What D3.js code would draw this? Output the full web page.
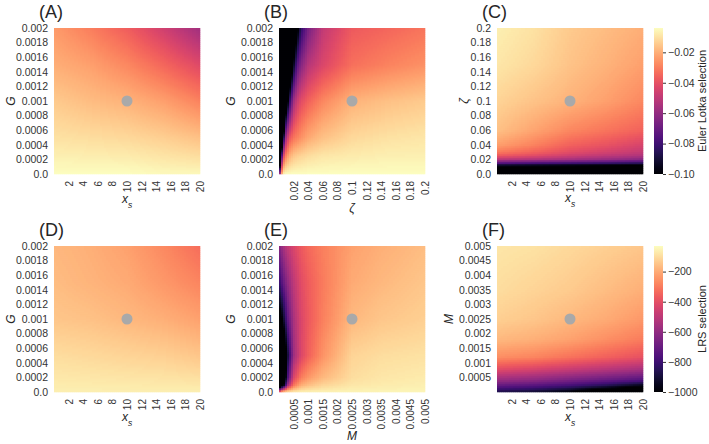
<!DOCTYPE html>
<html>
<head>
<meta charset="utf-8">
<script src="https://cdn.jsdelivr.net/npm/d3@7"></script>
<style>
  body { margin: 0; background: #fff; }
  svg { display: block; font-family: "Liberation Sans", Arial, sans-serif; }
  .axis text { font-size: 10.5px; fill: #333; }
  .xaxis text { font-size: 10px; }
  .axis path { display: none; }
  .axis line { stroke: #333; }
  .lab { font-size: 12px; fill: #262626; font-style: italic; }
  .ttl { font-size: 18px; fill: #262626; }
</style>
</head>
<body>
<svg id="chart" width="709" height="444"></svg>
<script>
// ---------- tick values / labels ----------
var xsTicks = [2, 4, 6, 8, 10, 12, 14, 16, 18, 20];
var gTicks = [0, 0.0002, 0.0004, 0.0006, 0.0008, 0.001, 0.0012, 0.0014, 0.0016, 0.0018, 0.002];
var gLabels = ["0.0", "0.0002", "0.0004", "0.0006", "0.0008", "0.001", "0.0012", "0.0014", "0.0016", "0.0018", "0.002"];
var zetaYTicks = [0, 0.02, 0.04, 0.06, 0.08, 0.1, 0.12, 0.14, 0.16, 0.18, 0.2];
var zetaYLabels = ["0.0", "0.02", "0.04", "0.06", "0.08", "0.1", "0.12", "0.14", "0.16", "0.18", "0.2"];
var zetaXTicks = [0.02, 0.04, 0.06, 0.08, 0.1, 0.12, 0.14, 0.16, 0.18, 0.2];
var zetaXLabels = ["0.02", "0.04", "0.06", "0.08", "0.1", "0.12", "0.14", "0.16", "0.18", "0.2"];
var mTicks = [0.0005, 0.001, 0.0015, 0.002, 0.0025, 0.003, 0.0035, 0.004, 0.0045, 0.005];
var mLabels = ["0.0005", "0.001", "0.0015", "0.002", "0.0025", "0.003", "0.0035", "0.004", "0.0045", "0.005"];
var elTicks = [-0.10, -0.08, -0.06, -0.04, -0.02];
var lrsTicks = [-1000, -800, -600, -400, -200];

// ---------- sampled selection values (rows = y grid, cols = x grid) ----------
// (A) Euler-Lotka, x_s vs G
var aCols = [0, 5, 10, 15, 20];
var aRows = [0, 0.0005, 0.001, 0.0015, 0.002];
var aVals = [
  [-0.004, -0.004, -0.004, -0.005, -0.005],
  [-0.0098, -0.0107, -0.0117, -0.0136, -0.0165],
  [-0.0146, -0.0174, -0.0194, -0.0232, -0.0290],
  [-0.0203, -0.0232, -0.0280, -0.0347, -0.0424],
  [-0.0242, -0.0299, -0.0366, -0.0462, -0.0568]
];
// (B) Euler-Lotka, zeta vs G
var bCols = [0, 0.005, 0.01, 0.015, 0.02, 0.025, 0.03, 0.04, 0.06, 0.1, 0.15, 0.2];
var bRows = [0, 0.00025, 0.0005, 0.001, 0.0015, 0.002];
var bVals = [
  [-0.0712, -0.0069, -0.004, -0.004, -0.004, -0.004, -0.004, -0.004, -0.004, -0.004, -0.004, -0.004],
  [-0.196, -0.0472, -0.0270, -0.0194, -0.0155, -0.0136, -0.0126, -0.0107, -0.0088, -0.0078, -0.0069, -0.0069],
  [-0.244, -0.1048, -0.052, -0.0376, -0.0318, -0.029, -0.0261, -0.0213, -0.0165, -0.0117, -0.0098, -0.0088],
  [-0.292, -0.196, -0.1144, -0.0808, -0.0568, -0.0472, -0.0414, -0.0357, -0.028, -0.0194, -0.0165, -0.0146],
  [-0.388, -0.244, -0.1768, -0.1288, -0.0952, -0.0731, -0.0635, -0.052, -0.0434, -0.0328, -0.029, -0.0261],
  [-0.388, -0.292, -0.196, -0.1576, -0.1288, -0.1048, -0.0837, -0.0664, -0.0491, -0.0376, -0.0347, -0.0318]
];
// (C) Euler-Lotka, x_s vs zeta
var cCols = [0, 5, 10, 15, 20];
var cRows = [0, 0.005, 0.01, 0.015, 0.02, 0.025, 0.03, 0.04, 0.06, 0.1, 0.15, 0.2];
var cVals = [
  [-0.292, -0.292, -0.292, -0.292, -0.292],
  [-0.196, -0.196, -0.196, -0.196, -0.196],
  [-0.1060, -0.1075, -0.1100, -0.1120, -0.1140],
  [-0.076, -0.0789, -0.0808, -0.0827, -0.0856],
  [-0.052, -0.0539, -0.0568, -0.0597, -0.0635],
  [-0.0386, -0.0424, -0.0472, -0.051, -0.0539],
  [-0.0309, -0.0357, -0.0414, -0.0453, -0.0491],
  [-0.0232, -0.029, -0.0357, -0.0395, -0.0443],
  [-0.0165, -0.0222, -0.028, -0.0318, -0.0357],
  [-0.0126, -0.016, -0.0194, -0.0232, -0.028],
  [-0.0088, -0.0117, -0.016, -0.0194, -0.0232],
  [-0.0069, -0.0098, -0.0146, -0.0174, -0.0203]
];
// (D) LRS, x_s vs G
var dCols = [0, 5, 10, 15, 20];
var dRows = [0, 0.0005, 0.001, 0.0015, 0.002];
var dVals = [
  [-60, -60, -60, -60, -60],
  [-98, -107, -117, -126, -145],
  [-145, -155, -174, -193, -221],
  [-164, -183, -202, -240, -278],
  [-174, -193, -221, -269, -326]
];
// (E) LRS, M vs G
var eCols = [0, 0.0001, 0.0002, 0.0003, 0.0005, 0.00075, 0.001, 0.0015, 0.0025, 0.0035, 0.005];
var eRows = [0, 0.0001, 0.0002, 0.0005, 0.001, 0.0015, 0.002];
var eVals = [
  [-335, -145, -78, -69, -60, -50, -50, -50, -50, -50, -50],
  [-1380, -1190, -905, -573, -316, -202, -164, -117, -79, -69, -60],
  [-1570, -1380, -1095, -763, -430, -297, -240, -174, -98, -79, -69],
  [-1570, -1380, -1143, -905, -573, -430, -354, -250, -117, -98, -88],
  [-1080, -1000, -858, -715, -544, -430, -373, -288, -174, -145, -126],
  [-829, -744, -668, -601, -497, -411, -364, -297, -202, -174, -145],
  [-639, -582, -525, -487, -430, -373, -335, -288, -221, -193, -164]
];
// (F) LRS, x_s vs M
var fCols = [0, 5, 10, 15, 20];
var fRows = [0, 0.0001, 0.0002, 0.0004, 0.0008, 0.0012, 0.0018, 0.0025, 0.0035, 0.005];
var fVals = [
  [-886, -924, -1000, -1190, -1380],
  [-810, -839, -905, -1048, -1190],
  [-734, -763, -810, -886, -1000],
  [-592, -620, -668, -715, -763],
  [-402, -430, -468, -506, -544],
  [-259, -278, -316, -354, -392],
  [-174, -193, -221, -259, -297],
  [-126, -145, -174, -202, -240],
  [-98, -117, -136, -164, -193],
  [-79, -88, -107, -126, -145]
];

// default parameter point marked on every panel
var dotA = [10, 0.001], dotB = [0.1, 0.001], dotC = [10, 0.1];
var dotD = [10, 0.001], dotE = [0.0025, 0.001], dotF = [10, 0.0025];

// ---------- colour scales ----------
var elColor = d3.scaleSequential(d3.interpolateMagma).domain([-0.10, -0.004]).clamp(true);
var lrsColor = d3.scaleSequential(d3.interpolateMagma).domain([-1000, -30]).clamp(true);

var svg = d3.select("#chart");
var size = 146;

var panels = [
  {title: "(A)", left: 54, top: 28, xd: [0, 20], yd: [0, 0.002], cols: aCols, rows: aRows, vals: aVals,
   xt: xsTicks, xl: xsTicks.map(String), yt: gTicks, yl: gLabels, xName: "xs", yName: "G", dot: dotA, color: elColor,
   yLabX: 11, xLabY: 203},
  {title: "(B)", left: 279, top: 28, xd: [0, 0.2], yd: [0, 0.002], cols: bCols, rows: bRows, vals: bVals,
   xt: zetaXTicks, xl: zetaXLabels, yt: gTicks, yl: gLabels, xName: "ζ", yName: "G", dot: dotB, color: elColor,
   yLabX: 231, xLabY: 212},
  {title: "(C)", left: 497, top: 28, xd: [0, 20], yd: [0, 0.2], cols: cCols, rows: cRows, vals: cVals,
   xt: xsTicks, xl: xsTicks.map(String), yt: zetaYTicks, yl: zetaYLabels, xName: "xs", yName: "ζ", dot: dotC, color: elColor,
   yLabX: 464, xLabY: 202},
  {title: "(D)", left: 54, top: 246, xd: [0, 20], yd: [0, 0.002], cols: dCols, rows: dRows, vals: dVals,
   xt: xsTicks, xl: xsTicks.map(String), yt: gTicks, yl: gLabels, xName: "xs", yName: "G", dot: dotD, color: lrsColor,
   yLabX: 11, xLabY: 421},
  {title: "(E)", left: 279, top: 246, xd: [0, 0.005], yd: [0, 0.002], cols: eCols, rows: eRows, vals: eVals,
   xt: mTicks, xl: mLabels, yt: gTicks, yl: gLabels, xName: "M", yName: "G", dot: dotE, color: lrsColor,
   yLabX: 231, xLabY: 440},
  {title: "(F)", left: 497, top: 246, xd: [0, 20], yd: [0, 0.005], cols: fCols, rows: fRows, vals: fVals,
   xt: xsTicks, xl: xsTicks.map(String), yt: mTicks, yl: mLabels, xName: "xs", yName: "M", dot: dotF, color: lrsColor,
   yLabX: 449, xLabY: 421}
];

// bilinear lookup inside the sampled grid
function sample(p, x, y) {
  var i = Math.max(0, Math.min(d3.bisectRight(p.cols, x) - 1, p.cols.length - 2));
  var j = Math.max(0, Math.min(d3.bisectRight(p.rows, y) - 1, p.rows.length - 2));
  var fx = (x - p.cols[i]) / (p.cols[i + 1] - p.cols[i]);
  var fy = (y - p.rows[j]) / (p.rows[j + 1] - p.rows[j]);
  fx = Math.max(0, Math.min(1, fx)); fy = Math.max(0, Math.min(1, fy));
  var v0 = p.vals[j][i] * (1 - fx) + p.vals[j][i + 1] * fx;
  var v1 = p.vals[j + 1][i] * (1 - fx) + p.vals[j + 1][i + 1] * fx;
  return v0 * (1 - fy) + v1 * fy;
}

function axisName(g, name) {
  if (name === "xs") {
    g.append("tspan").text("x");
    g.append("tspan").attr("baseline-shift", "sub").attr("font-size", "8.5px").text("s");
  } else {
    g.text(name);
  }
}

panels.forEach(function(p) {
  var x = d3.scaleLinear().domain(p.xd).range([p.left, p.left + size]);
  var y = d3.scaleLinear().domain(p.yd).range([p.top + size, p.top]);
  var n = 73;
  var cells = [];
  for (var i = 0; i < n; i++) {
    for (var j = 0; j < n; j++) {
      var x0 = p.xd[0] + (p.xd[1] - p.xd[0]) * i / n, x1 = p.xd[0] + (p.xd[1] - p.xd[0]) * (i + 1) / n;
      var y0 = p.yd[0] + (p.yd[1] - p.yd[0]) * j / n, y1 = p.yd[0] + (p.yd[1] - p.yd[0]) * (j + 1) / n;
      cells.push({x0: x0, x1: x1, y0: y0, y1: y1, v: sample(p, (x0 + x1) / 2, (y0 + y1) / 2)});
    }
  }
  var g = svg.append("g");
  g.selectAll("rect")
    .data(cells)
    .enter()
    .append("rect")
    .attr("x", function(d) { return x(d.x0); })
    .attr("y", function(d) { return y(d.y1); })
    .attr("width", function(d) { return x(d.x1) - x(d.x0) + 0.3; })
    .attr("height", function(d) { return y(d.y0) - y(d.y1) + 0.3; })
    .attr("fill", function(d) { return p.color(d.v); });

  // marker
  g.append("circle")
    .attr("cx", x(p.dot[0]))
    .attr("cy", y(p.dot[1]))
    .attr("r", 5.5)
    .attr("fill", "#a9a9a9");

  // axes
  var xAxis = d3.axisBottom(x).tickValues(p.xt).tickSize(0)
    .tickFormat(function(d, i) { return p.xl[i]; });
  var gx = svg.append("g").attr("class", "axis xaxis")
    .attr("transform", "translate(0," + (p.top + size) + ")")
    .call(xAxis);
  gx.selectAll("text")
    .attr("transform", "rotate(-90)")
    .attr("text-anchor", "end")
    .attr("x", -7)
    .attr("y", 0)
    .attr("dy", "0.35em");

  var yAxis = d3.axisLeft(y).tickValues(p.yt).tickSize(0).tickPadding(6)
    .tickFormat(function(d, i) { return p.yl[i]; });
  svg.append("g").attr("class", "axis")
    .attr("transform", "translate(" + p.left + ",0)")
    .call(yAxis);

  // axis labels
  var xl = svg.append("text").attr("class", "lab")
    .attr("x", x((p.xd[0] + p.xd[1]) / 2)).attr("y", p.xLabY)
    .attr("text-anchor", "middle");
  axisName(xl, p.xName);
  var yl = svg.append("text").attr("class", "lab")
    .attr("transform", "translate(" + p.yLabX + "," + (p.top + size / 2) + ") rotate(-90)")
    .attr("text-anchor", "middle").attr("dy", "0.35em");
  axisName(yl, p.yName);

  svg.append("text").attr("class", "ttl")
    .attr("x", p.left - 15).attr("y", p.top - 10)
    .text(p.title);
});

// ---------- colour bars ----------
function colorbar(color, ticks, fmt, top, id, label) {
  var cb = d3.scaleLinear().domain(color.domain()).range([top + size, top]);
  var grad = svg.append("defs").append("linearGradient").attr("id", id)
    .attr("x1", 0).attr("y1", 1).attr("x2", 0).attr("y2", 0);
  d3.range(0, 1.0001, 0.05).forEach(function(t) {
    grad.append("stop").attr("offset", t).attr("stop-color", d3.interpolateMagma(t));
  });
  svg.append("rect").attr("x", 654).attr("y", top).attr("width", 9).attr("height", size)
    .attr("fill", "url(#" + id + ")");
  svg.append("g").attr("class", "axis")
    .attr("transform", "translate(663,0)")
    .call(d3.axisRight(cb).tickValues(ticks).tickSize(3).tickPadding(2).tickFormat(fmt));
  svg.append("text").attr("class", "lab").style("font-style", "normal").style("font-size", "11px")
    .attr("transform", "translate(706," + (top + size / 2) + ") rotate(-90)")
    .attr("text-anchor", "middle")
    .text(label);
}
colorbar(elColor, elTicks, d3.format(".2f"), 28, "gEL", "Euler Lotka selection");
colorbar(lrsColor, lrsTicks, d3.format("d"), 246, "gLRS", "LRS selection");
</script>
</body>
</html>
